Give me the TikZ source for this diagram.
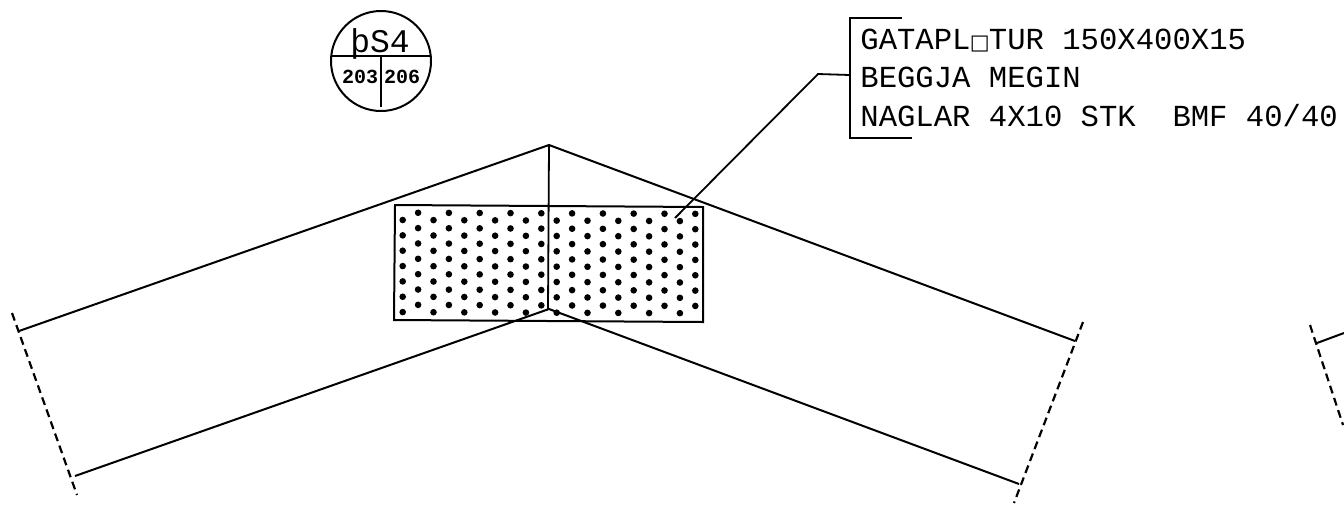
\documentclass[tikz,border=0pt]{standalone}
\usepackage{fontspec}
\setmainfont{Liberation Mono}
\newfontfamily\symfont{DejaVu Sans}
\tikzset{
	plan/.style={line width=1pt},
	thin plan/.style={line width=0.9pt},
	cut/.style={line width=1.1pt,dash pattern=on 4pt off 2.4pt},
	note/.style={anchor=base west,inner sep=0,font=\fontsize{15.3}{15.3}\selectfont},
	dot/.style={circle,fill,inner sep=0,minimum size=3.3pt}
}
\begin{document}
\begin{tikzpicture}[x=0.5pt,y=-0.5pt]
	\useasboundingbox (0,0) rectangle (1344,505);

	\draw[plan] (19,331) -- (549,145) -- (1075,341);
	\draw[plan] (75,476) -- (549,309) -- (1019,484);
	\draw[plan] (1317,343) -- (1344,333);
	\draw[thin plan] (549,145) -- (548,309);

	\draw[cut] (12,313) -- (77,495);
	\draw[cut] (1083,322) -- (1014,503);
	\draw[cut] (1310,325) -- (1343,425);

	\draw[plan] (395,205) -- (703,207) -- (703,322) -- (394,320) -- cycle;
	\foreach \c in {0,...,19} {
		\foreach \r in {0,...,6} {
			\pgfmathsetmacro{\dotx}{402.7+15.4*\c}
			\pgfmathsetmacro{\doty}{(mod(\c,2)==0 ? 220 : 212.7)+15.35*\r+0.06*\c}
			\node[dot] (d\c-\r) at (\dotx,\doty) {};
		}
	}

	\draw[plan] (381,61) circle (50);
	\draw[plan] (331,56) -- (431,56);
	\draw[plan] (381,56) -- (381,107);
	\node[anchor=base,inner sep=0,font=\fontsize{16.5}{16.5}\selectfont] (mark) at (380,52) {þS4};
	\node[anchor=base,inner sep=0,font=\fontsize{10}{10}\selectfont\bfseries] (left) at (360,83) {203};
	\node[anchor=base,inner sep=0,font=\fontsize{10}{10}\selectfont\bfseries] (right) at (402,83) {206};

	\coordinate (tip) at (675,218);
	\coordinate (knee) at (818,74);
	\coordinate (tick) at (850,75);
	\draw[thin plan] (tip) -- (knee) -- (tick);
	\draw[thin plan] (902,18) -- (850,18) -- (850,138) -- (912,138);

	\node[note] (plate) at (860,49) {GATAPL\makebox[0.6em]{\symfont\fontsize{10.5}{10.5}\selectfont □}TUR 150X400X15};
	\node[note] (edge) at (860,87) {BEGGJA MEGIN};
	\node[note] (nails) at (860,126) {NAGLAR 4X10 STK\ \ BMF 40/40};
\end{tikzpicture}
\end{document}
